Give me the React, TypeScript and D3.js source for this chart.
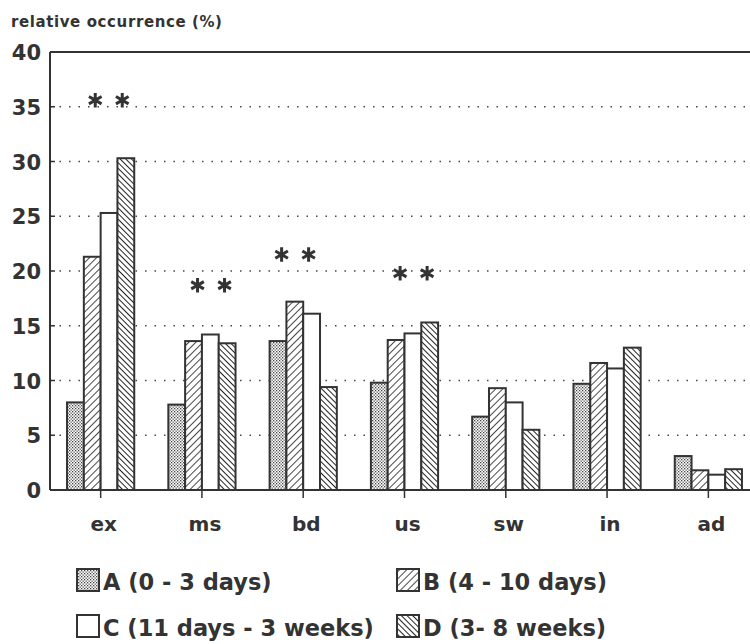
import React from 'react';
import * as d3 from 'd3';

const categories = ['ex', 'ms', 'bd', 'us', 'sw', 'in', 'ad'];
const groups = ['A', 'B', 'C', 'D'];
const seriesA = [8.0, 7.8, 13.6, 9.8, 6.7, 9.7, 3.1];
const seriesB = [21.3, 13.6, 17.2, 13.7, 9.3, 11.6, 1.8];
const seriesC = [25.3, 14.2, 16.1, 14.3, 8.0, 11.1, 1.4];
const seriesD = [30.3, 13.4, 9.4, 15.3, 5.5, 13.0, 1.9];
const yTicks = [0, 5, 10, 15, 20, 25, 30, 35, 40];
// significance marks: category, level (%), horizontal shift as fraction of band
const starCats = ['ex', 'ms', 'bd', 'us'];
const starLevels = [35.6, 18.7, 21.5, 19.8];
const starShift = [0.08, 0.09, -0.08, 0.09];
const legendLabels = ['A (0 - 3 days)', 'B (4 - 10 days)', 'C (11 days - 3 weeks)', 'D (3- 8 weeks)'];

const ink = '#333';
const font = '"DejaVu Sans", Verdana, sans-serif';

export default function App() {
  const width = 750;
  const height = 644;
  const left = 50, top = 52, bottom = 490, right = 759;

  const y = d3.scaleLinear().domain([0, 40]).range([bottom, top]);
  const x0 = d3.scaleBand().domain(categories).range([left, right]);
  const innerW = 16.8 * 4;
  const x1 = d3.scaleBand().domain(groups).range([0, innerW]);
  const series = [seriesA, seriesB, seriesC, seriesD];
  const fills = ['url(#pA)', 'url(#pB)', '#fff', 'url(#pD)'];
  const mid = (c: string) => (x0(c) as number) + x0.bandwidth() / 2;
  const star = d3.symbol(d3.symbolAsterisk, 150)();

  const bars: any[] = [];
  categories.forEach((c, ci) => {
    const cx = mid(c);
    groups.forEach((g, gi) => {
      const v = series[gi][ci];
      bars.push(
        <rect key={c + g} x={cx - innerW / 2 + (x1(g) as number)} y={y(v)} width={x1.bandwidth()}
          height={bottom - y(v)} fill={fills[gi]} stroke={ink} strokeWidth={2} />
      );
    });
  });

  const stars = starCats.map((c, i) => {
    const cx = mid(c) + starShift[i] * x0.bandwidth();
    const cy = y(starLevels[i]);
    return (
      <g key={'s' + c}>
        {[-13.5, 13.5].map(dx => (
          <path key={dx} d={star as string} transform={`translate(${cx + dx},${cy})`} fill="none" stroke={ink} strokeWidth={3} />
        ))}
      </g>
    );
  });

  const legendPos = [[77, 569], [397, 569], [77, 615], [397, 615]];
  const sw = 22;

  return (
    <svg width={width} height={height} style={{ position: 'absolute', left: 0, top: 0, background: '#fff' }}>
      <defs>
        <pattern id="pA" width={3} height={3} patternUnits="userSpaceOnUse">
          <rect width={3} height={3} fill="#fff" />
          <rect x={0} y={0} width={1.3} height={1.3} fill="#444" />
          <rect x={1.5} y={1.5} width={1.3} height={1.3} fill="#555" />
        </pattern>
        <pattern id="pB" width={5} height={5} patternUnits="userSpaceOnUse" patternTransform="rotate(45)">
          <rect width={5} height={5} fill="#fff" />
          <line x1={0} y1={0} x2={0} y2={5} stroke="#333" strokeWidth={1.8} />
        </pattern>
        <pattern id="pD" width={4} height={4} patternUnits="userSpaceOnUse" patternTransform="rotate(-45)">
          <rect width={4} height={4} fill="#fff" />
          <line x1={0} y1={0} x2={0} y2={4} stroke="#222" strokeWidth={2} />
        </pattern>
      </defs>

      <text x={11} y={27} fontSize={15} fontWeight="bold" fill={ink} fontFamily={font} letterSpacing={0.6}>relative occurrence (%)</text>

      {yTicks.filter(t => t > 0 && t < 40).map(t => (
        <line key={'g' + t} x1={left} x2={width} y1={y(t)} y2={y(t)} stroke="#444" strokeWidth={1.5}
          strokeDasharray="1.5 8" />
      ))}
      {yTicks.map(t => (
        <g key={'t' + t}>
          <line x1={left} x2={left + 5} y1={y(t)} y2={y(t)} stroke={ink} strokeWidth={1.5} />
          <text x={41} y={y(t) + 8} textAnchor="end" fontSize={21} fontWeight="bold" fill={ink} fontFamily={font}>{t}</text>
        </g>
      ))}

      <line x1={left} x2={width} y1={top} y2={top} stroke={ink} strokeWidth={2} />
      <line x1={left} x2={left} y1={top} y2={bottom} stroke={ink} strokeWidth={2} />

      {bars}

      <line x1={left} x2={width} y1={bottom} y2={bottom} stroke={ink} strokeWidth={2} />
      {categories.map(c => {
        const cx = mid(c);
        return (
          <g key={'c' + c}>
            <line x1={cx} x2={cx} y1={bottom} y2={bottom + 8} stroke={ink} strokeWidth={1.5} />
            <text x={cx + 3} y={531} textAnchor="middle" fontSize={20} fontWeight="bold" fill={ink} fontFamily={font}>{c}</text>
          </g>
        );
      })}

      {stars}

      {legendLabels.map((l, i) => (
        <g key={'l' + i}>
          <rect x={legendPos[i][0]} y={legendPos[i][1]} width={sw} height={sw} fill={fills[i]} stroke={ink} strokeWidth={2} />
          <text x={legendPos[i][0] + sw + 4} y={legendPos[i][1] + sw - 1} fontSize={22.5} fontWeight="bold" fill={ink} fontFamily={font}>{l}</text>
        </g>
      ))}
    </svg>
  );
}
